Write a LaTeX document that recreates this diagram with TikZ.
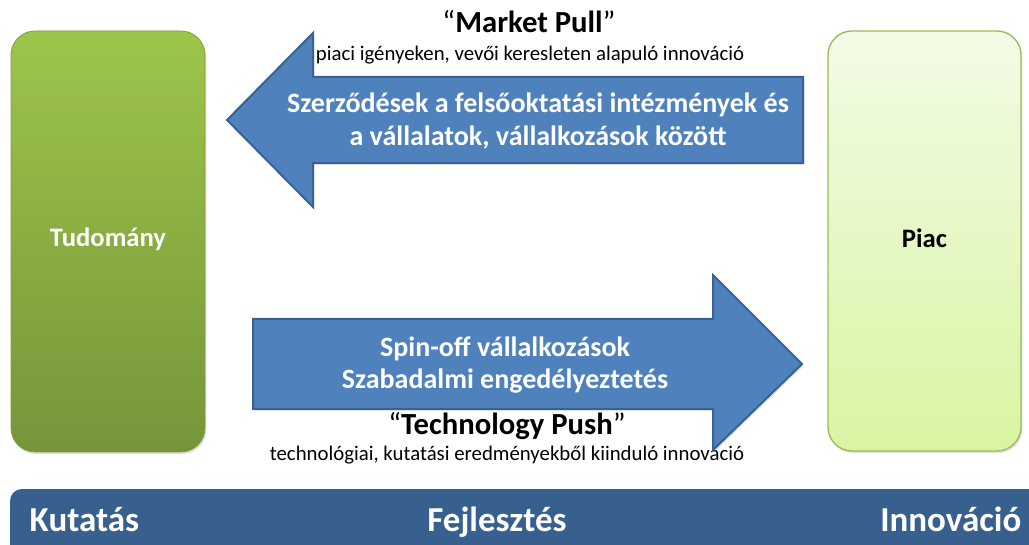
\documentclass[tikz,border=0pt]{standalone}
\usepackage{fontspec}
\setmainfont{Carlito}
\usetikzlibrary{shadows}

\definecolor{leaftop}{HTML}{9DC54A}
\definecolor{leafbottom}{HTML}{76953A}
\definecolor{paletop}{HTML}{F2FBE6}
\definecolor{palebottom}{HTML}{D8F5A2}
\definecolor{paleedge}{HTML}{9BBB59}
\definecolor{arrowblue}{HTML}{4F81BD}
\definecolor{arrowedge}{HTML}{3A6290}
\definecolor{barblue}{HTML}{37608F}

\tikzset{
  softshadow/.style={drop shadow={opacity=0.25, shadow xshift=1pt, shadow yshift=-1.5pt}},
  sciencebox/.style={rounded corners=18pt, top color=leaftop, bottom color=leafbottom,
    draw=leafbottom!80!leaftop, line width=0.6pt, softshadow,
    minimum width=145.5pt, minimum height=315.75pt},
  marketbox/.style={rounded corners=18pt, top color=paletop, bottom color=palebottom,
    draw=paleedge, line width=1pt, softshadow,
    minimum width=144.75pt, minimum height=315pt},
  boxlabel/.style={anchor=base, font=\bfseries\fontsize{20}{24}\selectfont},
  bigarrow/.style={fill=arrowblue, draw=arrowedge, line width=1.5pt, line join=miter, softshadow},
  arrowtext/.style={text=white, align=center, font=\bfseries\fontsize{21}{24.5}\selectfont},
  headline/.style={anchor=base, font=\fontsize{23}{27}\selectfont},
  subline/.style={anchor=base, font=\fontsize{15.6}{18}\selectfont},
  bartext/.style={text=white, font=\bfseries\fontsize{26.25}{30}\selectfont}
}

\begin{document}
\begin{tikzpicture}[x=0.75pt, y=-0.75pt]
  \useasboundingbox (0,0) rectangle (1029,545);
  \clip (0,0) rectangle (1029,545);

  % the two end boxes
  \node[sciencebox] (tudomany) at (108,241.5) {};
  \node[marketbox] (piac) at (924.5,241) {};
  \node[boxlabel, text=white] (tudomanylabel) at (108,247) {Tudomány};
  \node[boxlabel, text=black] (piaclabel) at (924.5,248) {Piac};

  % market pull: wide arrow pointing left
  \draw[bigarrow] (803,77) -- (313,77) -- (313,33) -- (227,120)
    -- (313,207) -- (313,163) -- (803,163) -- cycle;
  \node[headline] (pulltitle) at (529,33) {“\textbf{Market Pull}”};
  \node[subline] (pullsub) at (530,61) {piaci igényeken, vevői keresleten alapuló innováció};
  \node[arrowtext] (pulltext) at (538,121)
    {Szerződések a felsőoktatási intézmények és\\a vállalatok, vállalkozások között};

  % technology push: wide arrow pointing right
  \node[headline] (pushtitle) at (507,435) {“\textbf{Technology Push}”};
  \node[subline] (pushsub) at (507,460) {technológiai, kutatási eredményekből kiinduló innováció};
  \draw[bigarrow] (253,319) -- (713,319) -- (713,275) -- (802,364)
    -- (713,450) -- (713,409) -- (253,409) -- cycle;
  \node[arrowtext] (pushtext) at (505,365)
    {Spin-off vállalkozások\\Szabadalmi engedélyeztetés};

  % stage bar along the bottom
  \fill[barblue, rounded corners=9pt] (10,489) rectangle (1080,580);
  \node[bartext, anchor=base west] (kutatas) at (25,531) {Kutatás};
  \node[bartext, anchor=base] (fejlesztes) at (497,531) {Fejlesztés};
  \node[bartext, anchor=base east] (innovacio) at (1026,531) {Innováció};
\end{tikzpicture}
\end{document}
